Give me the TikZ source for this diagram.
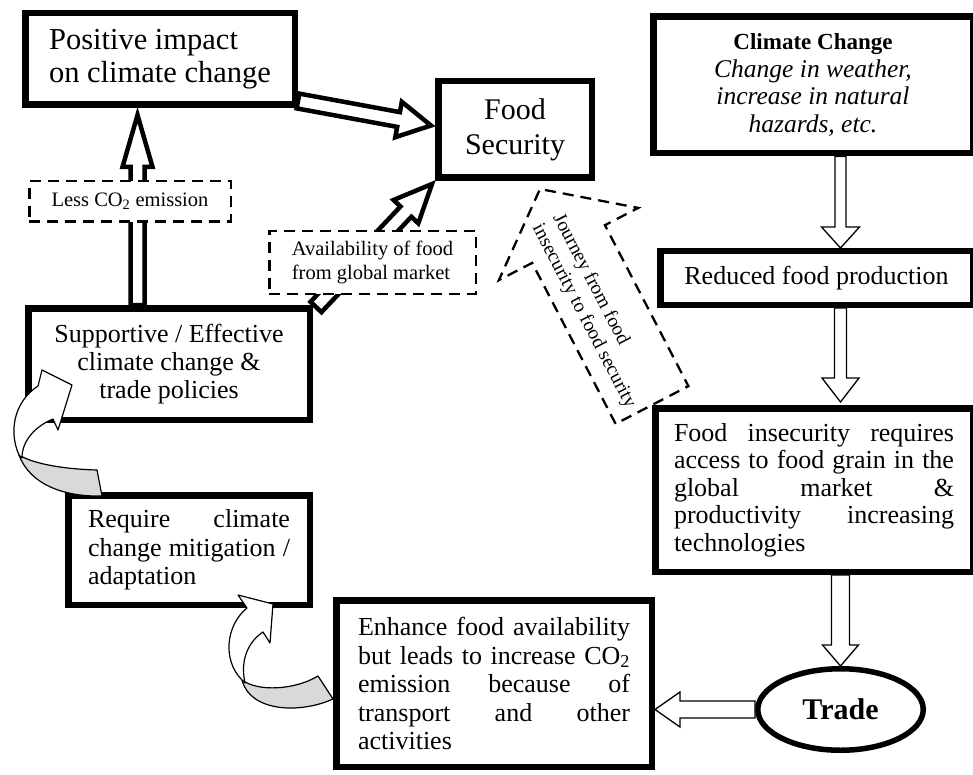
\documentclass[tikz,border=0pt]{standalone}
\usepackage{fontspec}
\setmainfont{Liberation Serif}
\usepackage{tikz}
\usetikzlibrary{calc,shapes.geometric}
\tikzstyle{box}=[rectangle,draw=black,line width=6.5pt,fill=white,inner sep=0pt]
\tikzstyle{dbox}=[rectangle,draw=black,line width=2.5pt,dash pattern=on 11pt off 7pt,
  fill=white,inner sep=0pt]
\tikzstyle{oval}=[ellipse,draw=black,line width=5.5pt,fill=white,inner sep=0pt]
\tikzstyle{heavyarrow}=[draw=black,line width=4.5pt,fill=white,line join=miter]
\tikzstyle{thinarrow}=[draw=black,line width=1.3pt,fill=white,line join=miter]
\tikzstyle{dasharrow}=[draw=black,line width=2.3pt,dash pattern=on 11pt off 7pt,line join=miter]
\tikzstyle{ribbon}=[draw=black,line width=1.2pt,line join=round]
\tikzstyle{none}=[]
\newcommand{\fsz}[2]{\fontsize{#1}{#2}\selectfont}
\newcommand{\blockarrow}[6][]{%
  \coordinate (ba) at ($(#3)!#6!(#2)$);
  \draw [#1] ($(#2)!#4!90:(#3)$) -- ($(ba)!#4!90:(#3)$) -- ($(ba)!#5!90:(#3)$) -- (#3)
    -- ($(ba)!#5!-90:(#3)$) -- ($(ba)!#4!-90:(#3)$) -- ($(#2)!#4!-90:(#3)$) -- cycle;}

\begin{document}
\begin{tikzpicture}[x=1pt,y=-1pt]
        \useasboundingbox (0,0) rectangle (973,775);
        \node [style=box, minimum width=269.5pt, minimum height=91.5pt, align=left, font=\fsz{30.5}{33}] (pos) at (160,59) {Positive impact\\on climate change};
        \node [style=box, minimum width=153.5pt, minimum height=96.5pt, align=center, font=\fsz{30}{35}] (food) at (515,129.5) {Food\\Security};
        \node [style=box, minimum width=319.5pt, minimum height=136.5pt, align=center, font=\fsz{25.5}{27.5}\itshape] (cc) at (813,85) {{\upshape\bfseries\fsz{23}{27.5}Climate Change}\\Change in weather,\\increase in natural\\hazards, etc.};
        \node [style=box, minimum width=312.5pt, minimum height=53.5pt, font=\fsz{26}{30}] (rfp) at (816.5,278) {Reduced food production};
        \node [style=box, minimum width=317.5pt, minimum height=163.5pt, text width=280pt, align=justify, font=\fsz{26}{27.5}] (fi) at (814,490) {Food insecurity requires\linebreak access to food grain in the\linebreak global market \&\linebreak productivity increasing\linebreak technologies};
        \node [style=oval, minimum width=165.5pt, minimum height=81.5pt, font=\fsz{30}{34}\bfseries] (trade) at (840.5,709.5) {Trade};
        \node [style=box, minimum width=315.5pt, minimum height=166.5pt, text width=272pt, align=justify, font=\fsz{26}{28.5}] (enh) at (494,683.5) {Enhance food availability\linebreak but leads to increase CO\textsubscript{2}\linebreak emission because of\linebreak transport and other\linebreak activities};
        \node [style=box, minimum width=241.5pt, minimum height=109.5pt, text width=202pt, align=justify, font=\fsz{26}{28.5}] (req) at (189,550) {Require climate\linebreak change mitigation /\linebreak adaptation};
        \node [style=box, minimum width=281.5pt, minimum height=111.5pt, align=center, font=\fsz{26}{28}] (sup) at (169,364) {Supportive / Effective\\climate change \&\\trade policies};
        \coordinate (col) at (840.5,0);
        \coordinate (a1s) at ($(pos.south east)+(0,-7)$);
        \coordinate (a1e) at ($(food.west)+(-4,-4)$);
        \coordinate (a2s) at ($(sup.north east)+(3,2)$);
        \coordinate (a2e) at ($(food.south west)+(-3,3)$);
        \coordinate (a3s) at ($(sup.north west)+(112.5,0)$);
        \coordinate (a3e) at ($(pos.south west)+(115.5,7)$);
        \coordinate (a4s) at (cc.south -| col);
        \coordinate (a4e) at (rfp.north -| col);
        \coordinate (a5s) at (rfp.south -| col);
        \coordinate (a5e) at ($(fi.north -| col)+(0,-3)$);
        \coordinate (a6s) at (fi.south -| col);
        \coordinate (a6e) at (trade.north);
        \coordinate (a7s) at (trade.west);
        \coordinate (a7e) at (enh.east |- trade.west);
        \coordinate (js) at (fi.north west);
        \coordinate (je) at ($(food.south)+(25,8)$);
        \blockarrow[style=heavyarrow]{a1s}{a1e}{7.5pt}{18pt}{33pt}
        \blockarrow[style=heavyarrow]{a2s}{a2e}{7.5pt}{17pt}{38pt}
        \blockarrow[style=heavyarrow]{a3s}{a3e}{7pt}{15pt}{52pt}
        \blockarrow[style=thinarrow]{a4s}{a4e}{5.5pt}{19pt}{21pt}
        \blockarrow[style=thinarrow]{a5s}{a5e}{6pt}{18.5pt}{24pt}
        \blockarrow[style=thinarrow]{a6s}{a6e}{9pt}{18pt}{21pt}
        \blockarrow[style=thinarrow]{a7s}{a7e}{8.5pt}{17.5pt}{25pt}
        \blockarrow[style=dasharrow]{js}{je}{41pt}{78.5pt}{62pt}
        \node [style=none, rotate=-62.5, align=left, font=\fsz{19.5}{23}] (jtext) at (594,311) {Journey from food\\insecurity to food security};
        \node [style=dbox, minimum width=201.5pt, minimum height=40.5pt, font=\fsz{20.5}{24}] (less) at (130,201.5) {Less CO\textsubscript{2} emission};
        \node [style=dbox, minimum width=206.5pt, minimum height=62.5pt, align=left, font=\fsz{20.5}{24}] (avail) at (372.5,262.5) {Availability of food\\from global market};
        \draw [style=ribbon, fill=gray!30] (97,470) -- (102,496) .. controls (65,497) and (30,485) .. (19,455) .. controls (32,463) and (60,469) .. (97,470) -- cycle;
        \draw [style=ribbon, fill=white] (19,455) .. controls (8,430) and (15,401) .. (38,386) -- (42,370) -- (72,385) -- (58,430) -- (53,419) .. controls (36,426) and (22,440) .. (22,458) -- cycle;
        \draw [style=ribbon, fill=gray!30] (318,676) -- (333,699) .. controls (300,714) and (250,712) .. (242,680) .. controls (258,692) and (295,690) .. (318,676) -- cycle;
        \draw [style=ribbon, fill=white] (242,680) .. controls (222,660) and (226,625) .. (247,608) -- (238,595) -- (273,604) -- (270,643) -- (263,632) .. controls (248,642) and (240,660) .. (245,683) -- cycle;
\end{tikzpicture}
\end{document}
